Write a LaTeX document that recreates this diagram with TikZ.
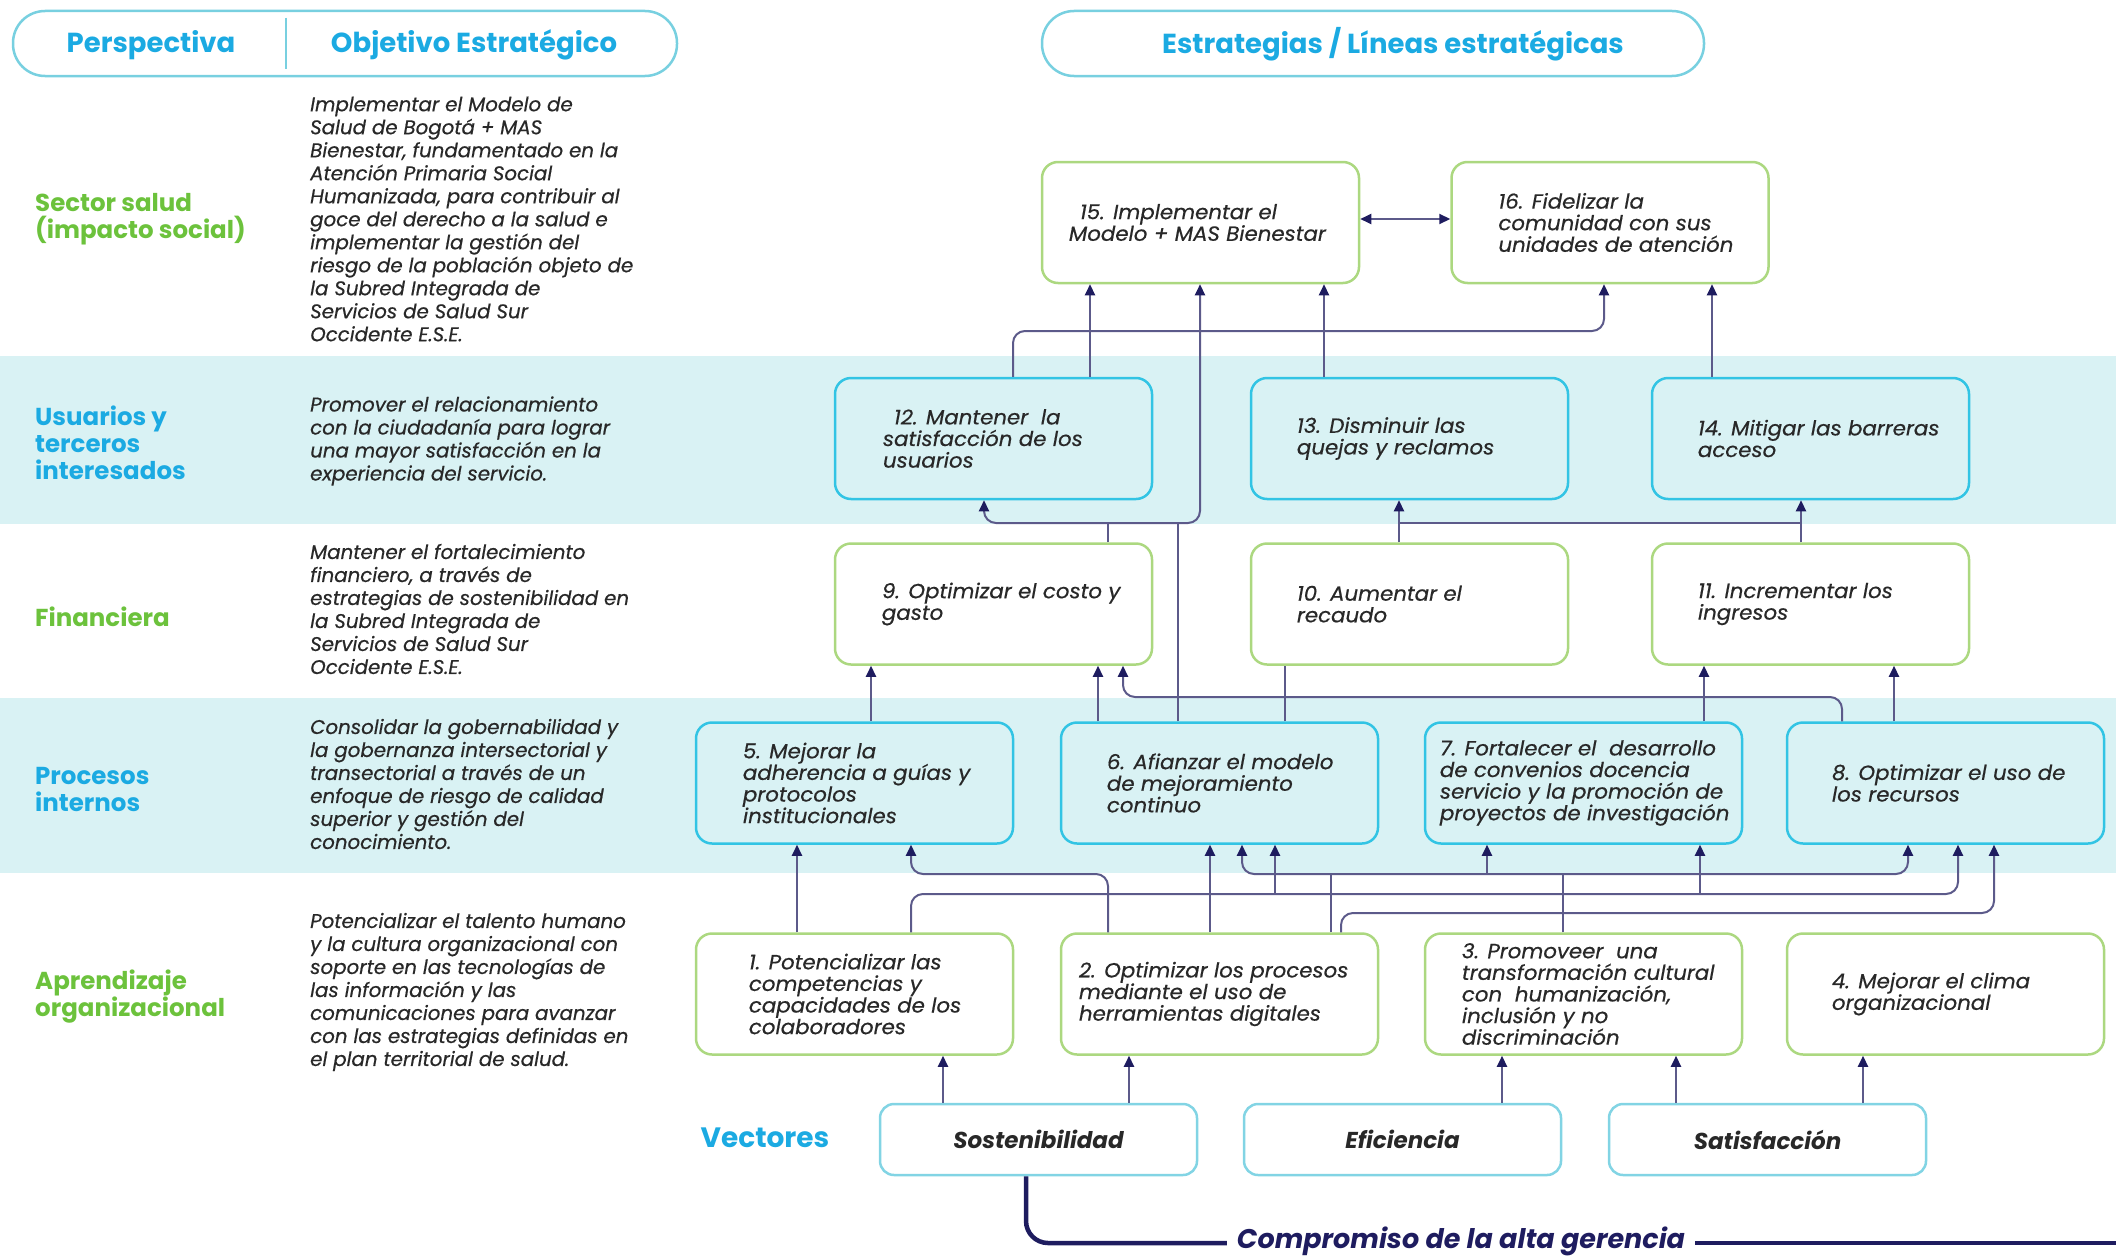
\documentclass[tikz,border=0pt]{standalone}
\usepackage{fontspec}
\setmainfont{Poppins}
\newfontfamily\medfont{Poppins}[FakeBold=0.5]
\newfontfamily\boxfont{Poppins}[FakeBold=0.5, FakeStretch=1.04]
\usetikzlibrary{arrows.meta}
\definecolor{cyanT}{RGB}{27,170,226}
\definecolor{greenT}{RGB}{108,194,60}
\definecolor{bandC}{RGB}{217,242,244}
\definecolor{boxCyan}{RGB}{50,196,228}
\definecolor{boxGreen}{RGB}{172,216,128}
\definecolor{pillC}{RGB}{120,208,224}
\definecolor{vecC}{RGB}{130,212,228}
\definecolor{lineC}{RGB}{92,90,138}
\definecolor{navyC}{RGB}{30,28,95}
\definecolor{textC}{RGB}{40,40,40}
\begin{document}
\begin{tikzpicture}[x=1pt,y=-1pt,
  pill/.style={draw=pillC, line width=2.5pt, rounded corners=32pt, minimum height=65pt, inner sep=0pt},
  hdr/.style={font=\fontsize{27.5}{32}\selectfont\bfseries, text=cyanT, inner sep=0pt},
  plab/.style={font=\fontsize{24.5}{27}\selectfont\bfseries, align=left, anchor=west, inner sep=0pt},
  desc/.style={font=\medfont\fontsize{19.8}{23}\selectfont\itshape, text=textC, align=left, anchor=west, inner sep=0pt},
  boxG/.style={draw=boxGreen, line width=2.5pt, fill=white, rounded corners=16pt, minimum width=317pt, minimum height=121pt, inner sep=0pt},
  boxC/.style={draw=boxCyan, line width=2.5pt, fill=bandC, rounded corners=16pt, minimum width=317pt, minimum height=121pt, inner sep=0pt},
  vbox/.style={draw=vecC, line width=2.5pt, fill=white, rounded corners=14pt, minimum width=317pt, minimum height=71pt, inner sep=0pt, font=\fontsize{23}{26}\selectfont\bfseries\itshape, text=textC},
  btxt/.style={font=\boxfont\fontsize{20.5}{21.6}\selectfont\itshape, text=textC, align=left, anchor=west, inner sep=0pt},
  conn/.style={draw=lineC, line width=2pt, rounded corners=12pt},
  tip/.tip={Triangle[length=11pt,width=10pt,color=navyC]},
  arr/.style={conn, -tip},
  dbl/.style={conn, tip-tip}
]
\useasboundingbox (0,0) rectangle (2116,1255);
% bands
\fill[bandC] (0,356) rectangle (2116,524);
\fill[bandC] (0,698) rectangle (2116,873);

% headers
\node[pill, minimum width=664pt] (hdrL) at (345,43.5) {};
\path (hdrL.north -| 286,0) ++(0,8) coordinate (divT) (hdrL.south -| 286,0) ++(0,-8) coordinate (divB);
\draw[draw=pillC, line width=2.5pt] (divT) -- (divB);
\node[hdr] (hPersp) at (151,45) {Perspectiva};
\node[hdr] (hObj) at (474,45) {Objetivo Estratégico};
\node[pill, minimum width=662pt] (hdrR) at (1373,43.5) {};
\node[hdr] (hEst) at (1393,44) {Estrategias / Líneas estratégicas};

% perspectives
\node[plab, text=greenT] (pSal) at (35,219) {Sector salud\\(impacto social)};
\node[plab, text=cyanT] (pUsu) at (35,443) {Usuarios y\\terceros\\interesados};
\node[plab, text=greenT] (pFin) at (35,617) {Financiera};
\node[plab, text=cyanT] (pPro) at (35,789) {Procesos\\internos};
\node[plab, text=greenT] (pApr) at (35,997) {Aprendizaje\\organizacional};

% descriptions
\node[desc] (d1) at (310,219) {Implementar el Modelo de\\Salud de Bogotá + MAS\\Bienestar, fundamentado en la\\Atención Primaria Social\\Humanizada, para contribuir al\\goce del derecho a la salud e\\implementar la gestión del\\riesgo de la población objeto de\\la Subred Integrada de\\Servicios de Salud Sur\\Occidente E.S.E.};
\node[desc] (d2) at (310,441) {Promover el relacionamiento\\con la ciudadanía para lograr\\una mayor satisfacción en la\\experiencia del servicio.};
\node[desc] (d3) at (310,609) {Mantener el fortalecimiento\\financiero, a través de\\estrategias de sostenibilidad en\\la Subred Integrada de\\Servicios de Salud Sur\\Occidente E.S.E.};
\node[desc] (d4) at (310,784) {Consolidar la gobernabilidad y\\la gobernanza intersectorial y\\transectorial a través de un\\enfoque de riesgo de calidad\\superior y gestión del\\conocimiento.};
\node[desc] (d5) at (310,992) {Potencializar el talento humano\\y la cultura organizacional con\\soporte en las tecnologías de\\las información y las\\comunicaciones para avanzar\\con las estrategias definidas en\\el plan territorial de salud.};

% boxes row A
\node[boxG] (b15) at (1200.5,222.5) {};
\node[boxG] (b16) at (1610,222.5) {};
% row B
\node[boxC] (b12) at (993.5,438.5) {};
\node[boxC] (b13) at (1409.5,438.5) {};
\node[boxC] (b14) at (1810.5,438.5) {};
% row C
\node[boxG] (b9) at (993.5,604) {};
\node[boxG] (b10) at (1409.5,604) {};
\node[boxG] (b11) at (1810.5,604) {};
% row D
\node[boxC] (b5) at (854.5,783) {};
\node[boxC] (b6) at (1219.5,783) {};
\node[boxC] (b7) at (1583.5,783) {};
\node[boxC] (b8) at (1945.5,783) {};
% row E
\node[boxG] (b1) at (854.5,994) {};
\node[boxG] (b2) at (1219.5,994) {};
\node[boxG] (b3) at (1583.5,994) {};
\node[boxG] (b4) at (1945.5,994) {};
% vectors
\node[vbox] (vs) at (1038.5,1139.5) {Sostenibilidad};
\node[vbox] (ve) at (1402.5,1139.5) {Eficiencia};
\node[vbox] (vt) at (1767.5,1139.5) {Satisfacción};
\node[font=\fontsize{28}{30}\selectfont\bfseries, text=cyanT, inner sep=0pt] (vect) at (765,1138) {Vectores};

% box texts
\node[btxt] (t15) at ([xshift=28pt]b15.west) {\hspace*{11pt}15. Implementar el\\Modelo + MAS Bienestar};
\node[btxt] (t16) at ([xshift=48pt]b16.west) {16. Fidelizar la\\comunidad con sus\\unidades de atención};
\node[btxt] (t12) at ([xshift=49pt]b12.west) {\hspace*{11pt}12. Mantener~ la\\satisfacción de los\\usuarios};
\node[btxt] (t13) at ([xshift=47pt]b13.west) {13. Disminuir las\\quejas y reclamos};
\node[btxt] (t14) at ([xshift=47pt]b14.west) {14. Mitigar las barreras\\acceso};
\node[btxt] (t9) at ([xshift=48pt]b9.west) {9. Optimizar el costo y\\gasto};
\node[btxt] (t10) at ([xshift=47pt]b10.west) {10. Aumentar el\\recaudo};
\node[btxt] (t11) at ([xshift=47pt]b11.west) {11. Incrementar los\\ingresos};
\node[btxt] (t5) at ([xshift=48pt]b5.west) {5. Mejorar la\\adherencia a guías y\\protocolos\\institucionales};
\node[btxt] (t6) at ([xshift=47pt]b6.west) {6. Afianzar el modelo\\de mejoramiento\\continuo};
\node[btxt] (t7) at ([xshift=16pt]b7.west) {7. Fortalecer el~ desarrollo\\de convenios docencia\\servicio y la promoción de\\proyectos de investigación};
\node[btxt] (t8) at ([xshift=46pt]b8.west) {8. Optimizar el uso de\\los recursos};
\node[btxt] (t1) at ([xshift=54pt]b1.west) {1. Potencializar las\\competencias y\\capacidades de los\\colaboradores};
\node[btxt] (t2) at ([xshift=19pt]b2.west) {2. Optimizar los procesos\\mediante el uso de\\herramientas digitales};
\node[btxt] (t3) at ([xshift=38pt]b3.west) {3. Promoveer~ una\\transformación cultural\\con~ humanización,\\inclusión y no\\discriminación};
\node[btxt] (t4) at ([xshift=46pt]b4.west) {4. Mejorar el clima\\organizacional};

% ---- connectors: row B -> row A
\draw[arr] (b12.north -| 1090,0) -- (b15.south -| 1090,0);
\draw[arr] (b12.north -| 1013,0) -- (1013,331) -- (1604,331) -- (b16.south -| 1604,0);
\draw[arr] (b13.north -| 1324,0) -- (b15.south -| 1324,0);
\draw[arr] (b14.north -| 1712,0) -- (b16.south -| 1712,0);
\draw[dbl] (b15.east |- 0,219) -- (b16.west |- 0,219);
% row C/D -> row B/A
\draw[dbl] (b12.south -| 984,0) -- (984,523) -- (1200,523) -- (b15.south -| 1200,0);
\draw[conn] (b9.north -| 1108,0) -- (1108,523);
\draw[conn] (b6.north -| 1178,0) -- (1178,523);
\draw[arr] (b10.north -| 1399,0) -- (b13.south -| 1399,0);
\draw[arr] (b11.north -| 1801,0) -- (b14.south -| 1801,0);
\draw[conn] (1399,523) -- (1801,523);
% row D -> row C
\draw[arr] (b5.north -| 871,0) -- (b9.south -| 871,0);
\draw[arr] (b6.north -| 1098,0) -- (b9.south -| 1098,0);
\draw[arr] (b8.north -| 1842,0) -- (1842,697) -- (1123,697) -- (b9.south -| 1123,0);
\draw[conn] (b6.north -| 1285,0) -- (b10.south -| 1285,0);
\draw[arr] (b7.north -| 1704,0) -- (b11.south -| 1704,0);
\draw[arr] (b8.north -| 1894,0) -- (b11.south -| 1894,0);
% row E -> row D
\draw[arr] (b1.north -| 797,0) -- (b5.south -| 797,0);
\draw[arr] (b2.north -| 1108,0) -- (1108,874) -- (911,874) -- (b5.south -| 911,0);
\draw[arr] (b2.north -| 1210,0) -- (b6.south -| 1210,0);
\draw[dbl] (b6.south -| 1242,0) -- (1242,874) -- (1908,874) -- (b8.south -| 1908,0);
\draw[arr] (1487,874) -- (b7.south -| 1487,0);
\draw[conn] (b3.north -| 1563,0) -- (1563,874);
\draw[conn] (b2.north -| 1331,0) -- (1331,874);
\draw[arr] (b1.north -| 911,0) -- (911,894) -- (1958,894) -- (b8.south -| 1958,0);
\draw[arr] (1275,894) -- (b6.south -| 1275,0);
\draw[arr] (1700,894) -- (b7.south -| 1700,0);
\draw[arr] (b2.north -| 1341,0) -- (1341,913) -- (1994,913) -- (b8.south -| 1994,0);
% vectors -> row E
\draw[arr] (vs.north -| 943,0) -- (b1.south -| 943,0);
\draw[arr] (vs.north -| 1129,0) -- (b2.south -| 1129,0);
\draw[arr] (ve.north -| 1502,0) -- (b3.south -| 1502,0);
\draw[arr] (vt.north -| 1676,0) -- (b3.south -| 1676,0);
\draw[arr] (vt.north -| 1863,0) -- (b4.south -| 1863,0);

% commitment line
\node[font=\fontsize{27}{30}\selectfont\bfseries\itshape, text=navyC, inner xsep=10pt, inner ysep=0pt] (comp) at (1461,1241) {Compromiso de la alta gerencia};
\coordinate (rEnd) at (2116,1243);
\draw[navyC, line width=4.5pt, rounded corners=22pt] (vs.south -| 1026,0) -- (1026,1243) -- (comp.west |- 0,1243);
\draw[navyC, line width=4.5pt] (comp.east |- 0,1243) -- (rEnd);
\end{tikzpicture}
\end{document}
